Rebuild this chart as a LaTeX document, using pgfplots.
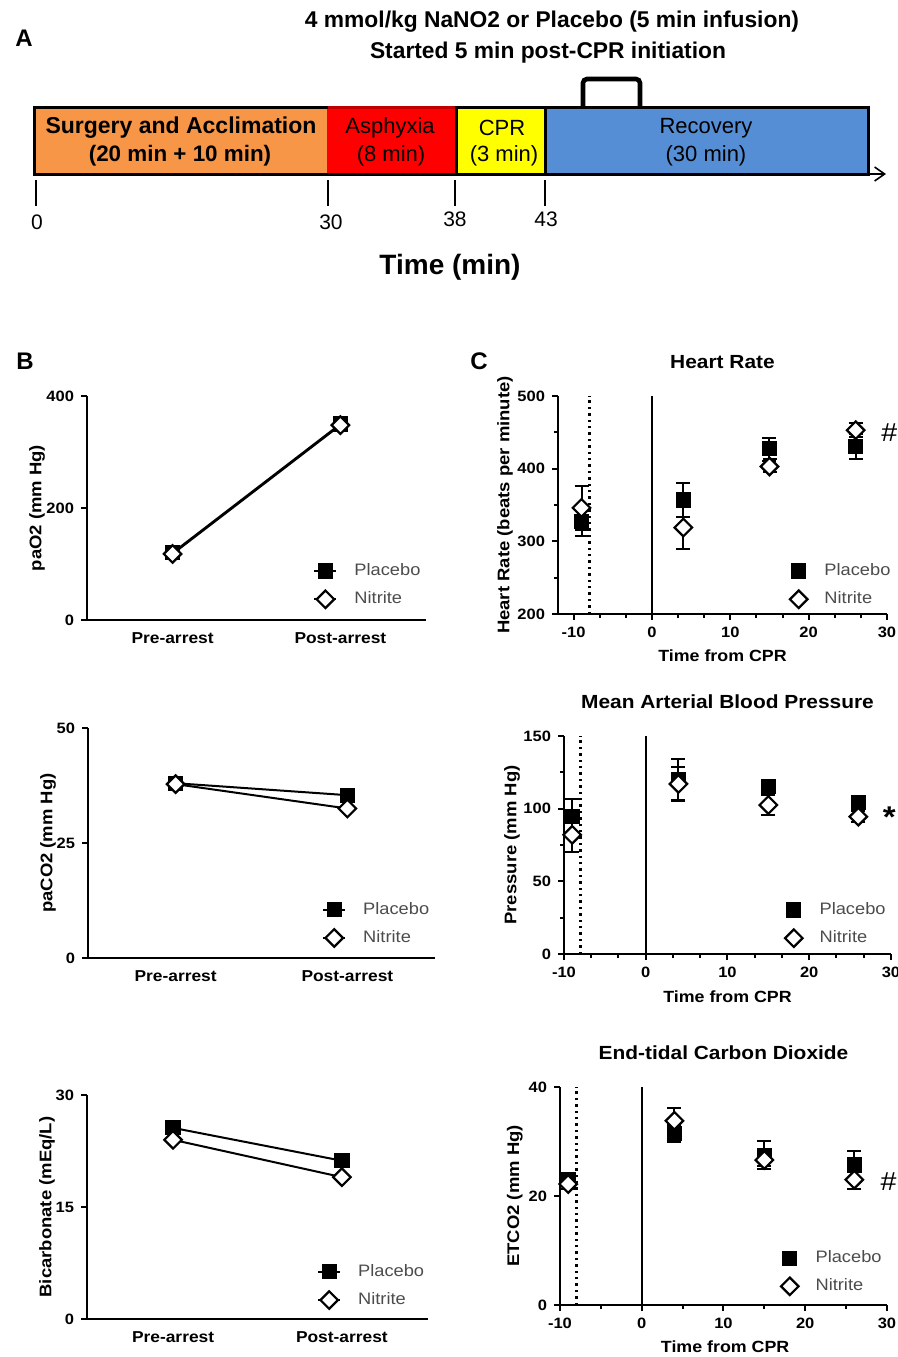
\documentclass[border=0pt]{standalone}
\usepackage{fontspec}
\setmainfont{Liberation Sans}
\newfontfamily\chartfont[FakeStretch=1.1]{Liberation Sans}
\usepackage{pgfplots}
\pgfplotsset{compat=1.18}
\usetikzlibrary{arrows.meta}

\definecolor{orangeA}{RGB}{247,150,70}
\definecolor{redA}{RGB}{255,0,0}
\definecolor{yellowA}{RGB}{255,255,0}
\definecolor{blueA}{RGB}{85,142,213}

\pgfplotsset{
  panel/.style={
    scale only axis,
    axis lines*=left,
    axis line style={line width=1pt,-},
    tick style={black,line width=1pt},
    tick align=outside,
    major tick length=3pt,
    minor tick length=2pt,
    /pgf/number format/assume math mode=true,
    tick label style={font=\chartfont\bfseries\fontsize{7.5}{8}\selectfont},
    ylabel style={font=\chartfont\bfseries\fontsize{8.4}{9}\selectfont,anchor=center},
    xlabel style={font=\chartfont\bfseries\fontsize{8.1}{9}\selectfont,anchor=center},
    every axis title shift=0pt,
    title style={font=\chartfont\bfseries\fontsize{9.5}{10}\selectfont,anchor=center,
      at={(axis description cs:0.5,1.156)}},
    clip=false,
    legend cell align=left,
    legend style={draw=none,fill=none,inner sep=0pt,outer sep=0pt,
      row sep=2.6pt,column sep=6.5pt,anchor=north west,
      font=\chartfont\fontsize{8.3}{9}\selectfont,text=black!70},
  },
  catpanel/.style={panel,xmin=-0.51,xmax=1.51,xtick={0,1},
    xticklabels={Pre-arrest,Post-arrest},
    major x tick style={draw=none},
    xticklabel style={font=\chartfont\bfseries\fontsize{7.9}{9}\selectfont},
    legend image code/.code={\draw[mark repeat=2,mark phase=2,##1]
      plot coordinates {(0pt,0pt) (5.5pt,0pt) (11pt,0pt)};}},
  timepanel/.style={panel,xmin=-10,xmax=30,xtick={-10,0,10,20,30},
    xlabel={Time from CPR},
    legend image code/.code={\draw[##1] plot coordinates {(5.5pt,0pt)};}},
  placebo/.style={black,line width=1pt,mark=square*,mark size=3.3pt,
    mark options={solid,fill=black}},
  nitrite/.style={black,line width=1pt,mark=square*,mark size=3.1pt,
    mark options={solid,fill=white,rotate=45,line width=1.1pt}},
  ebars/.style={error bars/.cd,y dir=both,y explicit,
    error bar style={line width=1pt,black},
    error mark options={rotate=90,mark size=3.5pt,line width=1pt,black}},
}

\begin{document}
\begin{tikzpicture}
\path[use as bounding box] (0,0) rectangle (449pt,-678.5pt);

% ---------------- panel A: timeline ----------------
\begin{scope}[x=0.5pt,y=-0.5pt]
  \fill[orangeA] (34,107) rectangle (327,174);
  \fill[redA] (327,107) rectangle (456,174);
  \fill[yellowA] (456,107) rectangle (545,174);
  \fill[blueA] (545,107) rectangle (868,174);
  \draw[line width=1.5pt] (34,107) rectangle (868,174);
  \draw[line width=1.5pt,red!75!black] (328,107) -- (455,107);
  \draw[line width=1.5pt] (456,107) -- (456,174) (545,107) -- (545,174);
  \draw[line width=0.8pt,-{Straight Barb[length=5pt,width=7pt]}] (868,174) -- (886,174);
  \draw[line width=2.3pt,rounded corners=2pt] (583,106) -- (583,79) -- (640,79) -- (640,106);
  \foreach \xx in {36,328,455,545} \draw[line width=1pt] (\xx,180) -- (\xx,206);
  \node[font=\fontsize{10.5}{12}\selectfont] at (37,222) {0};
  \node[font=\fontsize{10.5}{12}\selectfont] at (331,222) {30};
  \node[font=\fontsize{10.5}{12}\selectfont] at (455,219) {38};
  \node[font=\fontsize{10.5}{12}\selectfont] at (546,219) {43};
  \node[font=\bfseries\fontsize{14}{16}\selectfont] at (450,267) {Time (min)};
  \node[font=\bfseries\fontsize{11.4}{12}\selectfont] at (552,22) {4 mmol/kg NaNO2 or Placebo (5 min infusion)};
  \node[font=\bfseries\fontsize{11.4}{12}\selectfont] at (548,53) {Started 5 min post-CPR initiation};
  \node[font=\bfseries\fontsize{11.5}{13}\selectfont] at (181,128) {Surgery and Acclimation};
  \node[font=\bfseries\fontsize{11.2}{13}\selectfont] at (180,156) {(20 min + 10 min)};
  \node[font=\fontsize{11}{13}\selectfont] at (390,128) {Asphyxia};
  \node[font=\fontsize{11}{13}\selectfont] at (391,156) {(8 min)};
  \node[font=\fontsize{11}{13}\selectfont] at (502,128) {CPR};
  \node[font=\fontsize{11}{13}\selectfont] at (504,156) {(3 min)};
  \node[font=\fontsize{11}{13}\selectfont] at (706,128) {Recovery};
  \node[font=\fontsize{11}{13}\selectfont] at (706,156) {(30 min)};
  \node[font=\bfseries\fontsize{12}{14}\selectfont] at (24,38) {A};
  \node[font=\bfseries\fontsize{12}{14}\selectfont] at (25,361) {B};
  \node[font=\bfseries\fontsize{12}{14}\selectfont] at (479,361) {C};
\end{scope}

% ---------------- panel B: blood gases ----------------
\begin{axis}[catpanel,at={(87*0.5pt,-620*0.5pt)},anchor=south west,
  width=169.5pt,height=112pt,ymin=0,ymax=400,ytick={0,200,400},
  ylabel={paO2 (mm Hg)},ylabel style={at={(axis description cs:-0.1475,0.5)}},
  legend style={at={(rel axis cs:0.668,0.27)}}]
\addplot[placebo] coordinates {(0,120) (1,350)};
\addplot[nitrite] coordinates {(0,118) (1,348)};
\legend{Placebo,Nitrite}
\end{axis}

\begin{axis}[catpanel,at={(88*0.5pt,-958*0.5pt)},anchor=south west,
  width=173.5pt,height=115pt,ymin=0,ymax=50,ytick={0,25,50},
  ylabel={paCO2 (mm Hg)},ylabel style={at={(axis description cs:-0.115,0.5)}},
  legend style={at={(rel axis cs:0.675,0.26)}}]
\addplot[placebo] coordinates {(0,38) (1,35.4)};
\addplot[nitrite] coordinates {(0,37.8) (1,32.5)};
\legend{Placebo,Nitrite}
\end{axis}

\begin{axis}[catpanel,at={(87*0.5pt,-1319*0.5pt)},anchor=south west,
  width=170.5pt,height=112pt,ymin=0,ymax=30,ytick={0,15,30},
  ylabel={Bicarbonate (mEq/L)},ylabel style={at={(axis description cs:-0.117,0.5)}},
  legend style={at={(rel axis cs:0.675,0.262)}}]
\addplot[placebo] coordinates {(0,25.6) (1,21.2)};
\addplot[nitrite] coordinates {(0,24.0) (1,19.0)};
\legend{Placebo,Nitrite}
\end{axis}

% ---------------- panel C: haemodynamics ----------------
\begin{axis}[timepanel,at={(558*0.5pt,-614*0.5pt)},anchor=south west,
  width=164.5pt,height=109pt,xmin=-12,ymin=200,ymax=500,
  ytick={200,300,400,500},minor y tick num=1,minor x tick num=2,
  title={Heart Rate},
  ylabel={Heart Rate (beats per minute)},ylabel style={at={(axis description cs:-0.161,0.5)}},
  xlabel style={at={(axis description cs:0.5,-0.193)}},
  legend style={at={(rel axis cs:0.705,0.25)}}]
\addplot[forget plot,black,line width=1.2pt,dotted] coordinates {(-8,200) (-8,500)};
\addplot[forget plot,black,line width=1pt] coordinates {(0,200) (0,500)};
\addplot[placebo,only marks,ebars] table[x=t,y=v,y error=e] {
t v e
-9 327 19
4 357 23
15 428 14
26 431 17
};
\addplot[nitrite,only marks,ebars] table[x=t,y=v,y error=e] {
t v e
-9 346 30
4 319 29
15 403 7
26 453 10
};
\node[font=\chartfont\fontsize{13}{14}\selectfont] at (axis cs:30.3,449) {\#};
\legend{Placebo,Nitrite}
\end{axis}

\begin{axis}[timepanel,at={(564*0.5pt,-954*0.5pt)},anchor=south west,
  width=163.5pt,height=109pt,ymin=0,ymax=150,
  ytick={0,50,100,150},minor y tick num=1,minor x tick num=2,
  title={Mean Arterial Blood Pressure},
  ylabel={Pressure (mm Hg)},ylabel style={at={(axis description cs:-0.159,0.5)}},
  xlabel style={at={(axis description cs:0.5,-0.197)}},
  legend style={at={(rel axis cs:0.676,0.255)}}]
\addplot[forget plot,black,line width=1.2pt,dotted] coordinates {(-8,0) (-8,150)};
\addplot[forget plot,black,line width=1pt] coordinates {(0,0) (0,150)};
\addplot[placebo,only marks,ebars] table[x=t,y=v,y error=e] {
t v e
-9 94.5 12
4 120 14
15 115 3
26 104 4
};
\addplot[nitrite,only marks,ebars] table[x=t,y=v,y error=e] {
t v e
-9 82 12
4 117 12
15 102.5 7
26 94.5 4
};
\node[font=\chartfont\bfseries\fontsize{15}{15}\selectfont] at (axis cs:29.8,94) {*};
\legend{Placebo,Nitrite}
\end{axis}

\begin{axis}[timepanel,at={(560*0.5pt,-1305*0.5pt)},anchor=south west,
  width=163.5pt,height=109pt,ymin=0,ymax=40,
  ytick={0,20,40},minor x tick num=1,
  title={End-tidal Carbon Dioxide},
  ylabel={ETCO2 (mm Hg)},ylabel style={at={(axis description cs:-0.138,0.5)}},
  xlabel style={at={(axis description cs:0.505,-0.193)}},
  legend style={at={(rel axis cs:0.676,0.268)}}]
\addplot[forget plot,black,line width=1.2pt,dotted] coordinates {(-8,0) (-8,40)};
\addplot[forget plot,black,line width=1pt] coordinates {(0,0) (0,40)};
\addplot[placebo,only marks,ebars] table[x=t,y=v,y error=e] {
t v e
-9 23 1
4 31.5 1.6
15 27.5 2.6
26 25.7 2.6
};
\addplot[nitrite,only marks,ebars] table[x=t,y=v,y error=e] {
t v e
-9 22.2 1
4 33.8 2.4
15 26.6 1
26 23 1.8
};
\node[font=\chartfont\fontsize{13}{14}\selectfont] at (axis cs:30.2,22.6) {\#};
\legend{Placebo,Nitrite}
\end{axis}
\end{tikzpicture}
\end{document}
